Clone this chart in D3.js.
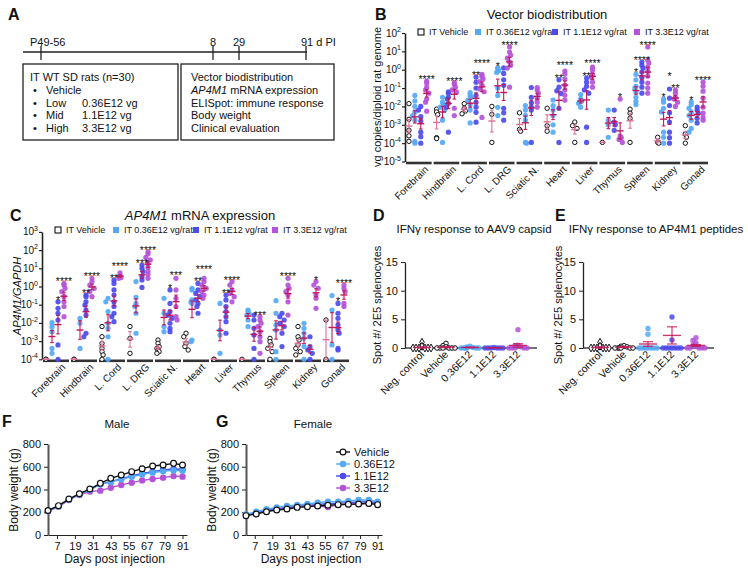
<!DOCTYPE html>
<html><head><meta charset="utf-8">
<script src="https://cdn.jsdelivr.net/npm/d3@7/dist/d3.min.js"></script>
<style>
html,body{margin:0;padding:0;background:#fff;}
svg{display:block;}
</style></head><body>
<svg id="fig" width="748" height="576"></svg>
<script>
// ================= DATA =================
// Panel A (schematic)
const timelineLabels = ["P49-56", "8", "29", "91 d PI"];
const timelineDays = [0, 8, 29, 91];
const doseNames = ["Vehicle", "Low", "Mid", "High"];
const doseAmounts = ["", "0.36E12 vg", "1.1E12 vg", "3.3E12 vg"];
const readouts = ["Vector biodistribution", "AP4M1| mRNA expression", "ELISpot: immune response", "Body weight", "Clinical evaluation"];

// Panels B & C
const seriesNames = ["IT Vehicle", "IT 0.36E12 vg/rat", "IT 1.1E12 vg/rat", "IT 3.3E12 vg/rat"];
const tissues = ["Forebrain","Hindbrain","L. Cord","L. DRG","Sciatic N.","Heart","Liver","Thymus","Spleen","Kidney","Gonad"];
const bioTicksExp = [2,1,0,-1,-2,-3,-4,-5];
const mrnaTicksExp = [3,2,1,0,-1,-2,-3,-4];

// B: vg copies / diploid genome, log10 values per tissue
const bioVehicleLog = [
 [-1.85,-2.7,-3.3,-3.6,-3.9],
 [-2.15,-2.3,-2.45,-3.7,-3.75],
 [-1.85,-2.1,-2.25,-2.4],
 [-2.0,-2.43,-3.96],
 [-2.35,-3.25,-3.35],
 [-2.1,-3.05,-3.35],
 [-2.85,-3.05,-3.2,-3.96],
 [-3.96],
 [-2.15,-2.37,-2.65,-3.96],
 [-3.68,-3.96,-4.0],
 [-3.05,-3.5,-3.68,-4.0]];
const bioLowLog = [
 [-1.4,-1.7,-2.0,-2.3,-2.5,-2.75,-3.9,-4.0],
 [-1.5,-1.77,-1.9,-2.04,-2.2,-2.75,-3.96],
 [-1.25,-1.4,-1.5,-1.66,-1.9,-2.2,-2.9],
 [0.1,0.05,-0.05,-0.15,-1.0,-1.4,-2.05,-2.5],
 [-1.95,-2.2,-2.48,-2.75,-3.96,-4.0],
 [-1.65,-1.95,-2.2,-2.5,-3.0,-3.4],
 [-1.35,-1.6,-1.7,-1.83,-2.04],
 [-2.2,-2.75,-3.0,-3.68],
 [-0.25,-0.55,-0.9,-1.0,-1.22,-1.5,-1.72,-1.9],
 [-1.6,-1.77,-2.1,-2.3,-3.4,-3.68,-4.0],
 [-1.75,-1.9,-2.1,-2.3,-2.5,-2.75,-3.2,-3.4]];
const bioMidLog = [
 [-2.0,-2.2,-2.55,-2.8,-3.4,-3.65,-4.0],
 [-1.2,-1.28,-1.5,-1.6,-1.83,-2.04,-3.4],
 [-0.4,-0.68,-1.0,-1.39,-1.77,-2.04,-2.32,-2.86],
 [0.1,-0.2,-0.55,-0.85,-2.1,-2.35,-2.75],
 [-0.97,-1.5,-1.8,-2.04,-2.2,-3.96],
 [-0.55,-0.95,-1.15,-1.3,-2.1,-3.96],
 [-0.45,-0.68,-0.9,-1.1,-1.28,-3.13,-3.96],
 [-2.2,-2.85,-3.0,-3.3],
 [0.42,0.25,0.09,-0.13,-0.41,-0.68,-0.95,-1.28],
 [-1.05,-1.55,-1.95,-2.35,-2.85,-3.4,-3.7,-4.0],
 [-2.04,-2.2,-2.37,-2.65,-2.9]];
const bioHighLog = [
 [-0.62,-0.73,-0.95,-1.1,-1.28,-1.6,-1.77,-2.26],
 [-0.7,-0.8,-0.95,-1.1,-1.22,-2.1,-2.5],
 [-0.25,-0.35,-0.5,-0.65,-0.85,-1.05,-1.2,-2.6],
 [1.24,0.96,0.8,0.63,0.42,0.25,0.09,-0.95],
 [-0.97,-1.1,-1.28,-1.55,-1.77,-2.04],
 [-0.08,-0.24,-0.51,-0.84,-1.11,-1.39,-1.66],
 [0.14,-0.02,-0.24,-0.41,-0.68,-0.95],
 [-1.6,-3.6,-3.7,-3.8,-3.96],
 [1.24,0.52,0.36,0.14,-0.08,-0.35,-0.73,-1.0,-1.28],
 [-1.11,-1.28,-1.5,-1.6,-1.77,-2.0],
 [-0.68,-0.9,-1.17,-1.55,-2.04,-2.37,-2.6,-2.75]];
// significance: [tissue index, series index, label]
const bioStars = [[0,3,"****"],[1,3,"****"],[2,3,"****"],[2,2,"**"],[3,3,"****"],[3,1,"*"],
 [5,3,"****"],[5,2,"**"],[6,3,"****"],[6,2,"**"],[7,3,"*"],[8,3,"****"],[8,2,"****"],[8,1,"*"],
 [9,3,"**"],[9,2,"*"],[9,1,"*"],[10,3,"****"],[10,1,"*"]];

// C: AP4M1 / GAPDH, log10 values per tissue
const mrnaVehicleLog = [
 [-4,-4],
 [-4,-4],
 [-2.2,-2.76,-3.12,-3.4,-3.58,-3.76,-4.0],
 [-2.2,-2.85,-3.67],
 [-2.94,-3.12,-3.3,-3.4,-3.49,-3.58,-3.67],
 [-2.57,-2.76,-3.12,-3.3,-3.49],
 [-4,-4],
 [-4],
 [-2.85,-3.03,-3.21,-3.4,-3.58,-4.0],
 [-2.2,-2.76,-2.94,-3.21,-3.4,-3.58,-3.76],
 [-1.84,-4]];
const mrnaLowLog = [
 [-1.99,-2.21,-2.48,-3.4,-3.67],
 [-1.75,-2.02,-3.4],
 [-0.65,-0.84,-1.38,-2.02,-2.3,-2.76,-4.0],
 [0.27,-0.6,-0.93,-1.1,-1.47,-2.57],
 [-0.65,-1.47,-2.2,-2.48],
 [-0.1,-0.19,-0.74,-0.84,-0.93,-2.94,-3.03],
 [-0.93,-2.39,-2.67,-3.67],
 [-1.29,-1.38,-1.47,-1.57,-1.84,-2.2],
 [-0.78,-1.47,-2.11,-2.39,-3.58,-4.0],
 [-2.02,-2.3,-2.57,-2.85,-3.3,-4.0],
 [-0.5,-1.29,-3.21,-4.0]];
const mrnaMidLog = [
 [-0.84,-1.2,-1.47,-1.84,-3.21,-4.0],
 [-0.47,-0.56,-0.84,-1.02,-1.29,-1.57,-2.57,-2.76],
 [0.35,0.17,-0.19,-0.47,-0.84,-1.1,-1.47,-1.66,-1.93],
 [1.18,1.0,0.82,0.54,0.36,-0.05],
 [-0.19,-0.93,-1.38,-1.57,-1.75,-2.02,-2.3,-2.48],
 [0.17,-0.19,-0.38,-0.56,-0.74,-0.93,-1.1,-1.47],
 [-0.47,-0.74,-1.1,-1.38,-1.66,-1.93,-2.57],
 [-1.57,-1.84,-2.3,-2.67,-3.4,-4.0],
 [-1.47,-1.66,-1.84,-2.02,-2.2,-2.57,-3.3],
 [-2.76,-3.3,-3.49,-3.67,-4.0],
 [-0.93,-1.47,-1.75,-2.11,-2.39,-2.57,-3.4,-3.49]];
const mrnaHighLog = [
 [0.17,0.08,-0.1,-0.28,-0.56,-0.84,-1.1,-1.66],
 [0.45,0.27,0.08,-0.1,-0.28,-0.56],
 [0.75,0.6,0.5,0.45],
 [1.91,1.79,1.6,1.46,1.27,1.05,0.82,0.67,0.45],
 [0.45,-0.19,-0.65,-1.1,-1.66,-1.84],
 [0.45,0.27,0.08,-0.1,-0.28,-0.47,-0.65],
 [0.27,0.08,-0.19,-0.38,-0.56,-0.84],
 [-1.66,-1.84,-2.02,-2.2,-2.48,-2.76,-3.03,-3.67],
 [0.45,0.08,-0.1,-0.28,-0.47,-0.84,-1.57],
 [0.27,0.08,-0.1,-0.47,-0.65,-1.2],
 [0.08,-0.1,-0.28,-0.93,-1.1]];
const mrnaStars = [[0,3,"****"],[0,2,"*"],[1,3,"****"],[1,2,"**"],[2,3,"****"],[2,2,"**"],[3,3,"****"],[3,2,"***"],
 [4,3,"***"],[4,2,"*"],[5,3,"****"],[5,2,"**"],[6,3,"****"],[6,2,"**"],[7,3,"***"],[8,3,"****"],[9,3,"*"],[10,3,"****"],[10,2,"*"]];

// D & E: ELISpot
const ifnCats = ["Neg. control","Vehicle","0.36E12","1.1E12","3.3E12"];
const ifnTicks = [0,5,10,15];
const capsidValues = [
 [0,0,0,0,0,0,0.3,1.0],
 [0,0,0,0,0,0,0.2,0.4,0.8],
 [0,0,0,0,0,0,0.1,0.2,0.3],
 [0,0,0,0,0,0,0.1],
 [0,0,0,0,0,0.2,0.4,0.5,3.2]];
const capsidMean = [0.1,0.15,0.1,0.05,0.45];
const capsidSem = [0.1,0.08,0.05,0.03,0.3];
const peptideValues = [
 [0,0,0,0,0,0,0.3,1.0],
 [0,0,0,0,0,0,0.2,0.3,0.4],
 [0,0,0,0,0,0,0,2.4,3.4],
 [0,0,0,0,0,0,0,1.4,5.4],
 [0,0,0,0,0,0.3,0.5,0.9,1.3,1.8]];
const peptideMean = [0.1,0.15,0.7,2.2,0.45];
const peptideSem = [0.1,0.08,0.4,1.5,0.15];

// F & G: body weight (g)
const weightNames = ["Vehicle","0.36E12","1.1E12","3.3E12"];
const days = [1,8,15,22,29,36,43,50,57,64,71,78,85,91];
const dayTicks = [7,19,31,43,55,67,79,91];
const weightTicks = [0,200,400,600,800];
const maleVehicle = [215,258,316,363,404,454,498,527,557,583,607,615,630,615];
const maleLow     = [210,252,312,358,396,445,465,490,512,532,548,560,568,565];
const maleMid     = [212,255,314,360,398,448,469,495,519,542,557,571,580,577];
const maleHigh    = [208,248,308,352,382,390,416,440,460,480,492,504,518,513];
const maleSem     = [8,8,9,10,11,13,14,16,18,20,21,22,24,22];
const femaleVehicle = [170,185,205,220,229,243,249,255,261,267,270,272,278,267];
const femaleLow     = [180,205,226,243,255,264,272,284,293,293,299,308,308,293];
const femaleMid     = [178,195,215,232,243,252,260,268,275,280,285,290,292,285];
const femaleHigh    = [175,190,208,225,235,245,250,255,245,265,270,275,278,272];
const femaleSem     = [5,5,6,6,7,7,8,8,9,9,9,10,10,10];

// ================= STYLE =================
const FONT = "'Liberation Sans', Arial, Helvetica, sans-serif";
const COLORS = ["#111111", "#55a9f4", "#4b4bee", "#b552d8"];
const CRIM = "#c2185b", PINK = "#dd7099";

const svg = d3.select("#fig").attr("font-family", FONT);

function T(g, x, y, s, size, anchor, extra) {
  const t = g.append("text").attr("x", x).attr("y", y).attr("font-size", size)
    .attr("text-anchor", anchor || "start").attr("fill", "#111").text(s);
  if (extra) for (const k in extra) t.attr(k, extra[k]);
  return t;
}
function pow10Label(g, x, y, exp, size) {
  const t = g.append("text").attr("x", x).attr("y", y).attr("font-size", size)
    .attr("text-anchor", "end").attr("fill", "#111");
  t.append("tspan").text("10");
  t.append("tspan").attr("dy", -4.5).attr("font-size", size * 0.7).text(String(exp));
  return t;
}
function swarm(vals, yFn, cx, r, step, maxK, minD) {
  const pts = vals.map(v => ({ v, y: yFn(v) })).sort((a, b) => a.y - b.y);
  const placed = [];
  pts.forEach((p, i) => {
    let done = false;
    for (let k = 0; k <= maxK && !done; k++) {
      for (const s of (k === 0 ? [0] : [-k, k])) {
        const x = cx + s * step;
        if (placed.every(q => (q.x - x) ** 2 + (q.y - p.y) ** 2 >= minD * minD)) { p.x = x; done = true; break; }
      }
    }
    if (!done) p.x = cx + ((i % (2 * maxK + 1)) - maxK) * step * 0.5;
    placed.push(p);
  });
  return pts;
}

// ================= PANEL A =================
const gA = svg.append("g");
T(gA, 8, 20, "A", 16, "start", { "font-weight": "bold" });
const tl = d3.scaleLinear().domain(timelineDays).range([41, 213, 239, 306]);
gA.append("line").attr("x1", 23).attr("x2", 307).attr("y1", 52).attr("y2", 52).attr("stroke", "#222").attr("stroke-width", 1.3);
timelineDays.forEach((d, i) => {
  gA.append("line").attr("x1", tl(d)).attr("x2", tl(d)).attr("y1", 46).attr("y2", 60).attr("stroke", "#222").attr("stroke-width", 1.3);
  const anchor = (i === 0 || i === 3) ? "start" : "middle";
  const dx = i === 0 ? -11 : (i === 3 ? -5 : 0);
  T(gA, tl(d) + dx, 46, timelineLabels[i], 11, anchor);
});
gA.append("rect").attr("x", 23).attr("y", 64).attr("width", 155).attr("height", 76).attr("fill", "none").attr("stroke", "#222").attr("stroke-width", 1.3);
gA.append("rect").attr("x", 181).attr("y", 64).attr("width", 153).attr("height", 76).attr("fill", "none").attr("stroke", "#222").attr("stroke-width", 1.3);
const lineY = d3.scaleLinear().domain([0, 4]).range([81, 132]);
T(gA, 30, lineY(0), "IT WT SD rats (n=30)", 11);
doseNames.forEach((n, i) => {
  T(gA, 33, lineY(i + 1), "•", 11);
  T(gA, 46, lineY(i + 1), n, 11);
  if (doseAmounts[i]) T(gA, 82, lineY(i + 1), doseAmounts[i], 11);
});
readouts.forEach((r, i) => {
  const t = T(gA, 191, lineY(i), "", 11);
  if (r.includes("|")) {
    const [a, b] = r.split("|");
    t.append("tspan").attr("font-style", "italic").text(a);
    t.append("tspan").text(b);
  } else t.text(r);
});

// ================= PANELS B & C =================
function dotPanel(g, cfg) {
  const gx = d3.scaleBand().domain(tissues).range([cfg.x0, cfg.x1]);
  const sub = d3.scaleBand().domain(d3.range(4)).range([1, gx.bandwidth() - 3]);
  const y = cfg.y;
  const yax = g.append("g").attr("transform", `translate(${cfg.x0},0)`)
    .call(d3.axisLeft(y).tickValues(cfg.ticks.map(e => Math.pow(10, e))).tickFormat("").tickSize(3).tickSizeOuter(0));
  yax.select(".domain").attr("stroke", "#222").attr("stroke-width", 1.6);
  yax.selectAll(".tick line").attr("stroke", "#222").attr("stroke-width", 1.2);
  cfg.ticks.forEach(e => pow10Label(g, cfg.x0 - 4, y(Math.pow(10, e)) + 3.5, e, 10));
  const axY = y.range()[0] + 1.5;
  tissues.forEach(t => {
    g.append("line").attr("x1", gx(t) + 1).attr("x2", gx(t) + gx.bandwidth() - 1)
      .attr("y1", axY).attr("y2", axY).attr("stroke", "#333").attr("stroke-width", 2.6);
    const lx = gx(t) + 24, ly = axY + 7;
    T(g, lx, ly, t, 10, "end", { transform: `rotate(-45,${lx},${ly})` });
  });
  const r = 2.6;
  const maxY = {};
  cfg.data.forEach((series, s) => {
    series.forEach((vals, i) => {
      const cx = gx(tissues[i]) + sub(s) + sub.bandwidth() / 2;
      const pts = swarm(vals, v => y(Math.pow(10, v)), cx, r, 2.2, 1, 4.0);
      maxY[i + "_" + s] = d3.min(pts, p => p.y);
      g.selectAll(null).data(pts).enter().append("circle")
        .attr("cx", p => p.x).attr("cy", p => p.y).attr("r", s === 0 ? r - 0.4 : r)
        .attr("fill", s === 0 ? "#fff" : COLORS[s]).attr("fill-opacity", s === 0 ? 1 : 0.92)
        .attr("stroke", s === 0 ? "#111" : "none").attr("stroke-width", 1);
    });
  });
  cfg.data.forEach((series, s) => {
    series.forEach((vals, i) => {
      const cx = gx(tissues[i]) + sub(s) + sub.bandwidth() / 2;
      const m = d3.mean(vals), sd = vals.length > 1 ? d3.deviation(vals) : 0, se = sd / Math.sqrt(vals.length);
      const col = s === 0 ? PINK : CRIM;
      const ym = y(Math.pow(10, m)), y1 = y(Math.pow(10, m - se)), y2 = y(Math.pow(10, m + se));
      g.append("line").attr("x1", cx - 3.5).attr("x2", cx + 3.5).attr("y1", ym).attr("y2", ym).attr("stroke", col).attr("stroke-width", 1.4);
      g.append("line").attr("x1", cx).attr("x2", cx).attr("y1", y1).attr("y2", y2).attr("stroke", col).attr("stroke-width", 1.1);
      [y1, y2].forEach(yy => g.append("line").attr("x1", cx - 1.8).attr("x2", cx + 1.8).attr("y1", yy).attr("y2", yy).attr("stroke", col).attr("stroke-width", 1.1));
    });
  });
  // significance stars placed above each column's top point, separated when stacked
  const SF = 10.5, GAP = 12.5;
  const starItems = cfg.stars.map(([i, s, lab]) => ({
    i, lab, x: gx(tissues[i]) + sub(s) + sub.bandwidth() / 2, base: maxY[i + "_" + s] + 2, w: lab.length * 4.3
  }));
  d3.groups(starItems, d => d.i).forEach(([, items]) => {
    items.sort((a, b) => b.base - a.base); // lowest first
    for (let k = 1; k < items.length; k++) {
      for (let j = 0; j < k; j++) {
        const a = items[k], b = items[j];
        const hOverlap = Math.abs(a.x - b.x) < (a.w + b.w) / 2 + 1;
        if (hOverlap && b.base - a.base < GAP) a.base = b.base - GAP;
      }
    }
  });
  starItems.forEach(d => T(g, d.x, d.base, d.lab, SF, "middle"));
  cfg.legendX.forEach((lx, s) => {
    g.append("rect").attr("x", lx - 3).attr("y", cfg.legendY - 3).attr("width", 6).attr("height", 6)
      .attr("fill", s === 0 ? "#fff" : COLORS[s]).attr("stroke", s === 0 ? "#111" : "none").attr("stroke-width", 1.1);
    T(g, lx + 8, cfg.legendY + 3.3, seriesNames[s], 9);
  });
}

const gB = svg.append("g");
T(gB, 375, 20, "B", 16, "start", { "font-weight": "bold" });
T(gB, 547, 19, "Vector biodistribution", 13, "middle");
T(gB, 0, 0, "vg copies/diploid rat genome", 11, "middle", { transform: "translate(381,97) rotate(-90)" });
dotPanel(gB, {
  x0: 405, x1: 709,
  y: d3.scaleLog().domain([1e-5, 1e2]).range([161.5, 33]),
  ticks: bioTicksExp,
  data: [bioVehicleLog, bioLowLog, bioMidLog, bioHighLog],
  stars: bioStars, legendX: [421, 478, 555, 637], legendY: 32
});

const gC = svg.append("g");
T(gC, 10, 221, "C", 16, "start", { "font-weight": "bold" });
const ct = T(gC, 200, 220, "", 13, "middle");
ct.append("tspan").attr("font-style", "italic").text("AP4M1");
ct.append("tspan").text(" mRNA expression");
T(gC, 0, 0, "AP4M1/GAPDH", 11, "middle", { transform: "translate(21,296) rotate(-90)", "font-style": "italic" });
dotPanel(gC, {
  x0: 42, x1: 350,
  y: d3.scaleLog().domain([1e-4, 1e3]).range([359.3, 231.9]),
  ticks: mrnaTicksExp,
  data: [mrnaVehicleLog, mrnaLowLog, mrnaMidLog, mrnaHighLog],
  stars: mrnaStars, legendX: [58, 116, 196, 275], legendY: 230
});

// ================= PANELS D & E =================
function ifnPanel(g, cfg) {
  const x = d3.scaleBand().domain(ifnCats).range(cfg.xr);
  const y = d3.scaleLinear().domain([0, 15]).range([348, 262]);
  const yax = g.append("g").attr("transform", `translate(${cfg.x0},0)`)
    .call(d3.axisLeft(y).tickValues(ifnTicks).tickSize(4).tickSizeOuter(0));
  yax.select(".domain").attr("stroke", "#222").attr("stroke-width", 1.3);
  yax.selectAll(".tick line").attr("stroke", "#222");
  yax.selectAll(".tick text").attr("font-size", 11).attr("font-family", FONT).attr("fill", "#111");
  g.append("line").attr("x1", cfg.x0).attr("x2", cfg.xEnd).attr("y1", y(0)).attr("y2", y(0)).attr("stroke", "#444").attr("stroke-width", 1.5);
  T(g, cfg.letterX, 221, cfg.letter, 16, "start", { "font-weight": "bold" });
  T(g, cfg.titleX, 233, cfg.title, 11.5, "middle");
  T(g, 0, 0, "Spot #/ 2E5 splenocytes", 11, "middle", { transform: `translate(${cfg.ylabX},305) rotate(-90)` });
  cfg.values.forEach((vals, c) => {
    const cx = x(ifnCats[c]) + x.bandwidth() / 2;
    const pts = swarm(vals, v => y(v), cx, 2.6, 3, 3, 2.9);
    if (c === 0) {
      g.selectAll(null).data(pts).enter().append("path")
        .attr("d", d3.symbol(d3.symbolDiamond, 18))
        .attr("transform", p => `translate(${p.x},${p.y})`)
        .attr("fill", "#fff").attr("stroke", "#111").attr("stroke-width", 1);
    } else {
      g.selectAll(null).data(pts).enter().append("circle")
        .attr("cx", p => p.x).attr("cy", p => p.y).attr("r", c === 1 ? 2.3 : 2.7)
        .attr("fill", c === 1 ? "#fff" : COLORS[c - 1]).attr("fill-opacity", c === 1 ? 1 : 0.85)
        .attr("stroke", c === 1 ? "#111" : "none").attr("stroke-width", 1);
    }
    const m = cfg.mean[c], e = cfg.sem[c];
    g.append("line").attr("x1", cx - 9).attr("x2", cx + 9).attr("y1", y(m)).attr("y2", y(m)).attr("stroke", CRIM).attr("stroke-width", 1.4).attr("stroke-opacity", 0.85);
    g.append("line").attr("x1", cx).attr("x2", cx).attr("y1", y(m - e)).attr("y2", y(m + e)).attr("stroke", CRIM).attr("stroke-width", 1.2).attr("stroke-opacity", 0.85);
    [m - e, m + e].forEach(v => g.append("line").attr("x1", cx - 5).attr("x2", cx + 5).attr("y1", y(v)).attr("y2", y(v)).attr("stroke", CRIM).attr("stroke-width", 1.2).attr("stroke-opacity", 0.85));
    const lx = cx + 3, ly = 355;
    T(g, lx, ly, ifnCats[c], 10.5, "end", { transform: `rotate(-45,${lx},${ly})` });
  });
}
const gD = svg.append("g");
ifnPanel(gD, { x0: 405, xEnd: 537, xr: [410, 530], letter: "D", letterX: 373, title: "IFNγ response to AAV9 capsid", titleX: 474, ylabX: 381,
  values: capsidValues, mean: capsidMean, sem: capsidSem });
const gE = svg.append("g");
ifnPanel(gE, { x0: 583, xEnd: 714, xr: [588, 708], letter: "E", letterX: 555, title: "IFNγ response to AP4M1 peptides", titleX: 656, ylabX: 562,
  values: peptideValues, mean: peptideMean, sem: peptideSem });

// ================= PANELS F & G =================
function weightPanel(g, cfg) {
  const x = d3.scaleLinear().domain([1, 94]).range([cfg.x0, cfg.x1]);
  const y = d3.scaleLinear().domain([0, 800]).range([535, 444]);
  const yax = g.append("g").attr("transform", `translate(${cfg.x0},0)`)
    .call(d3.axisLeft(y).tickValues(weightTicks).tickSize(4).tickSizeOuter(0));
  yax.select(".domain").attr("stroke", "#555").attr("stroke-width", 2);
  yax.selectAll(".tick line").attr("stroke", "#222");
  yax.selectAll(".tick text").attr("font-size", 11).attr("font-family", FONT).attr("fill", "#111");
  const xax = g.append("g").attr("transform", "translate(0,535)")
    .call(d3.axisBottom(x).tickValues(dayTicks).tickSize(4).tickSizeOuter(0));
  xax.select(".domain").attr("stroke", "#222").attr("stroke-width", 1.2);
  xax.selectAll(".tick line").attr("stroke", "#222");
  xax.selectAll(".tick text").attr("font-size", 11).attr("font-family", FONT).attr("fill", "#111");
  T(g, cfg.letterX, 427, cfg.letter, 16, "start", { "font-weight": "bold" });
  T(g, cfg.titleX, 428, cfg.title, 11.5, "middle");
  T(g, (cfg.x0 + cfg.x1) / 2 - 3, 563, "Days post injection", 12, "middle");
  T(g, 0, 0, "Body weight (g)", 12, "middle", { transform: `translate(${cfg.x0 - 30},490) rotate(-90)` });
  const line = d3.line().x((d, i) => x(days[i])).y(d => y(d));
  [3, 2, 1, 0].forEach(s => {
    const vals = cfg.series[s];
    const col = COLORS[s];
    g.append("path").attr("d", line(vals)).attr("fill", "none").attr("stroke", col).attr("stroke-width", 1.4);
    vals.forEach((v, i) => {
      const e = cfg.sem[i] * (s === 0 ? 1 : 0.7);
      g.append("line").attr("x1", x(days[i])).attr("x2", x(days[i])).attr("y1", y(v - e)).attr("y2", y(v + e)).attr("stroke", col).attr("stroke-width", 1);
      g.append("line").attr("x1", x(days[i]) - 2).attr("x2", x(days[i]) + 2).attr("y1", y(v + e)).attr("y2", y(v + e)).attr("stroke", col).attr("stroke-width", 1);
    });
    g.selectAll(null).data(vals).enter().append("circle")
      .attr("cx", (d, i) => x(days[i])).attr("cy", d => y(d)).attr("r", s === 0 ? 2.9 : 3.2)
      .attr("fill", s === 0 ? "#fff" : col).attr("stroke", s === 0 ? "#111" : "none").attr("stroke-width", 1.2);
  });
  if (cfg.legend) {
    const ly = d3.scaleLinear().domain([0, 3]).range([452, 488]);
    weightNames.forEach((n, s) => {
      g.append("line").attr("x1", 336).attr("x2", 350).attr("y1", ly(s)).attr("y2", ly(s)).attr("stroke", COLORS[s]).attr("stroke-width", 1.4);
      g.append("circle").attr("cx", 343).attr("cy", ly(s)).attr("r", s === 0 ? 2.9 : 3.2)
        .attr("fill", s === 0 ? "#fff" : COLORS[s]).attr("stroke", s === 0 ? "#111" : "none").attr("stroke-width", 1.2);
      T(g, 354, ly(s) + 4, n, 11);
    });
  }
}
const gF = svg.append("g");
weightPanel(gF, { x0: 48, x1: 187, letter: "F", letterX: 2, title: "Male", titleX: 117,
  series: [maleVehicle, maleLow, maleMid, maleHigh], sem: maleSem, legend: false });
const gG = svg.append("g");
weightPanel(gG, { x0: 246, x1: 382, letter: "G", letterX: 216, title: "Female", titleX: 313,
  series: [femaleVehicle, femaleLow, femaleMid, femaleHigh], sem: femaleSem, legend: true });
</script>
</body></html>
